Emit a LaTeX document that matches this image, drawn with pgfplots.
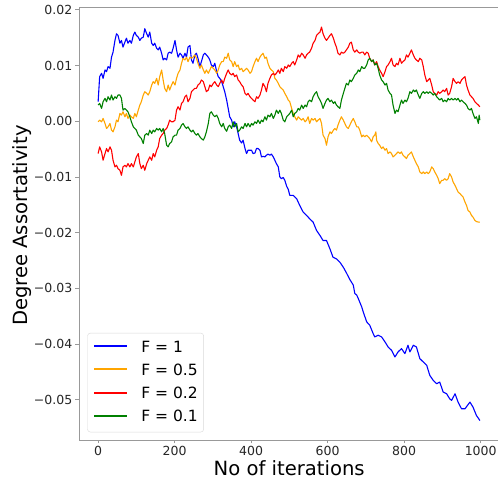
\documentclass[border=0pt]{standalone}
\usepackage{fontspec}
\setmainfont{DejaVu Sans}
\usepackage{pgfplots}
\pgfplotsset{compat=1.18}
\definecolor{mplblue}{HTML}{0000FF}
\definecolor{mplorange}{HTML}{FFA500}
\definecolor{mplred}{HTML}{FF0000}
\definecolor{mplgreen}{HTML}{008000}
\definecolor{spinegray}{gray}{0.6}
\definecolor{ticktext}{gray}{0.15}
\definecolor{legendframe}{gray}{0.85}

\begin{document}
\begin{tikzpicture}
% fixed page frame around the axis box (axis box south west corner is the origin)
\useasboundingbox (-79pt,-44pt) rectangle (419pt,440pt);
\begin{axis}[
  scale only axis,
  width=420.4pt, height=433pt,
  xmin=-50, xmax=1049,
  ymin=-0.0572, ymax=0.0205,
  axis line style={spinegray, line width=0.8pt},
  tick pos=left, tick align=outside,
  major tick length=3.5pt,
  every tick/.style={spinegray, line width=0.8pt},
  scaled y ticks=false, scaled x ticks=false,
  xtick={0,200,400,600,800,1000},
  xticklabels={0,200,400,600,800,1000},
  ytick={-0.05,-0.04,-0.03,-0.02,-0.01,0,0.01,0.02},
  yticklabels={−0.05,−0.04,−0.03,−0.02,−0.01,0.00,0.01,0.02},
  tick label style={font=\fontsize{12.5}{15}\selectfont, text=ticktext},
  yticklabel style={inner sep=0pt, xshift=-3pt},
  xticklabel style={inner sep=0pt, yshift=-3pt},
  xlabel={No of iterations},
  ylabel={Degree Assortativity},
  label style={font=\fontsize{19.6}{23}\selectfont, text=black},
  xlabel style={at={(axis description cs:0.5,-0.0831)}, anchor=base},
  ylabel style={at={(axis description cs:-0.123,0.495)}, anchor=base},
  legend style={
    at={(axis description cs:0.0197,0.0178)}, anchor=south west,
    draw=legendframe, rounded corners=3pt, fill=white,
    font=\fontsize{15.5}{18}\selectfont,
    inner xsep=6pt, inner ysep=7.5pt,
    row sep=9.2pt,
    cells={anchor=base west},
    nodes={inner sep=0pt, text height=11.5pt, text depth=2.6pt},
    /tikz/every odd column/.append style={column sep=13.3pt},
  },
  every axis plot/.append style={line width=1.1pt, line join=round},
]
% F = 1
\addplot[mplblue, legend image code/.code={\draw[draw=mplblue, line width=1.8pt] (0pt,6pt) -- (32.7pt,6pt);}] coordinates {
(0,0.0035)(4,0.0080)(9,0.0086)(13,0.0077)(18,0.0092)(22,0.0089)(26,0.0098)(31,0.0095)(35,0.0115)(39,0.0124)(44,0.0145)(48,0.0157)(52,0.0154)(57,0.0140)(61,0.0145)(65,0.0133)(70,0.0142)(74,0.0149)(78,0.0140)(83,0.0145)(87,0.0140)(92,0.0154)(96,0.0160)(100,0.0154)(105,0.0151)(109,0.0145)(113,0.0149)(118,0.0151)(122,0.0166)(127,0.0157)(131,0.0151)(135,0.0160)(140,0.0140)(144,0.0136)(148,0.0140)(153,0.0131)(157,0.0128)(161,0.0133)(166,0.0122)(170,0.0110)(174,0.0113)(179,0.0110)(183,0.0122)(187,0.0124)(192,0.0122)(196,0.0131)(201,0.0145)(205,0.0128)(209,0.0115)(214,0.0122)(218,0.0119)(222,0.0113)(227,0.0122)(231,0.0115)(235,0.0133)(240,0.0136)(244,0.0110)(248,0.0104)(253,0.0119)(257,0.0122)(261,0.0113)(266,0.0098)(270,0.0107)(275,0.0119)(279,0.0122)(283,0.0119)(288,0.0115)(292,0.0110)(296,0.0101)(301,0.0098)(305,0.0104)(310,0.0089)(314,0.0080)(318,0.0077)(323,0.0071)(327,0.0062)(331,0.0053)(336,0.0038)(340,0.0023)(344,0.0008)(349,0.0002)(353,-0.0010)(357,-0.0001)(362,-0.0010)(366,-0.0022)(370,-0.0034)(375,-0.0039)(379,-0.0034)(384,-0.0049)(388,-0.0058)(392,-0.0052)(397,-0.0052)(401,-0.0052)(405,-0.0058)(410,-0.0057)(414,-0.0049)(418,-0.0049)(423,-0.0052)(427,-0.0064)(431,-0.0063)(436,-0.0064)(440,-0.0061)(444,-0.0059)(449,-0.0061)(453,-0.0059)(458,-0.0064)(462,-0.0070)(466,-0.0076)(471,-0.0082)(475,-0.0100)(479,-0.0103)(484,-0.0101)(488,-0.0106)(493,-0.0117)(497,-0.0122)(501,-0.0133)(510,-0.0133)(519,-0.0139)(527,-0.0151)(536,-0.0163)(545,-0.0169)(553,-0.0175)(562,-0.0181)(571,-0.0196)(580,-0.0205)(588,-0.0214)(597,-0.0214)(606,-0.0229)(614,-0.0244)(623,-0.0247)(632,-0.0253)(641,-0.0262)(649,-0.0272)(658,-0.0284)(667,-0.0294)(671,-0.0309)(676,-0.0312)(680,-0.0318)(689,-0.0333)(693,-0.0342)(702,-0.0360)(710,-0.0366)(719,-0.0381)(723,-0.0387)(732,-0.0384)(741,-0.0387)(750,-0.0396)(758,-0.0405)(767,-0.0411)(776,-0.0423)(784,-0.0414)(793,-0.0408)(802,-0.0417)(810,-0.0402)(815,-0.0414)(824,-0.0402)(832,-0.0405)(841,-0.0426)(850,-0.0432)(859,-0.0438)(867,-0.0456)(876,-0.0465)(885,-0.0471)(893,-0.0468)(902,-0.0486)(911,-0.0489)(919,-0.0498)(924,-0.0501)(933,-0.0489)(941,-0.0504)(950,-0.0516)(959,-0.0516)(972,-0.0504)(980,-0.0513)(989,-0.0528)(998,-0.0537)
};
\addlegendentry{F = 1}
% F = 0.5
\addplot[mplorange, legend image code/.code={\draw[draw=mplorange, line width=1.8pt] (0pt,6pt) -- (32.7pt,6pt);}] coordinates {
(0,-0.0001)(4,0.0002)(9,-0.0001)(13,0.0005)(18,-0.0004)(22,-0.0013)(26,-0.0010)(31,-0.0004)(35,-0.0016)(39,-0.0019)(44,-0.0010)(48,0.0002)(52,-0.0001)(57,0.0014)(61,0.0011)(65,0.0017)(70,0.0008)(74,0.0014)(78,0.0005)(83,0.0011)(87,0.0008)(92,0.0005)(96,0.0014)(100,0.0008)(105,0.0020)(109,0.0029)(113,0.0035)(118,0.0047)(122,0.0053)(127,0.0050)(131,0.0047)(135,0.0053)(140,0.0065)(144,0.0071)(148,0.0068)(153,0.0077)(157,0.0065)(161,0.0080)(166,0.0092)(170,0.0074)(174,0.0059)(179,0.0053)(183,0.0065)(187,0.0056)(192,0.0065)(196,0.0071)(201,0.0065)(205,0.0077)(209,0.0086)(214,0.0092)(218,0.0104)(222,0.0113)(227,0.0110)(231,0.0115)(235,0.0107)(240,0.0115)(244,0.0113)(248,0.0115)(253,0.0119)(257,0.0113)(261,0.0104)(266,0.0095)(270,0.0101)(275,0.0092)(279,0.0086)(283,0.0092)(288,0.0086)(292,0.0092)(296,0.0098)(301,0.0095)(305,0.0092)(310,0.0086)(314,0.0092)(318,0.0101)(323,0.0107)(327,0.0107)(331,0.0115)(336,0.0113)(340,0.0122)(344,0.0110)(349,0.0107)(353,0.0098)(357,0.0107)(362,0.0098)(366,0.0101)(370,0.0092)(375,0.0095)(379,0.0089)(384,0.0092)(388,0.0095)(392,0.0092)(397,0.0086)(401,0.0089)(405,0.0098)(410,0.0107)(414,0.0113)(418,0.0107)(423,0.0115)(427,0.0119)(431,0.0122)(436,0.0113)(440,0.0115)(444,0.0104)(449,0.0095)(453,0.0092)(458,0.0089)(462,0.0077)(466,0.0074)(471,0.0068)(475,0.0062)(479,0.0059)(484,0.0056)(488,0.0050)(493,0.0044)(497,0.0038)(501,0.0035)(506,0.0023)(510,0.0014)(514,0.0008)(519,0.0002)(523,0.0008)(527,0.0005)(532,0.0002)(536,0.0005)(541,-0.0001)(545,0.0002)(549,0.0008)(553,-0.0004)(558,0.0005)(562,0.0002)(567,0.0005)(571,-0.0001)(575,0.0002)(580,0.0005)(584,-0.0004)(588,-0.0025)(593,-0.0031)(597,-0.0043)(601,-0.0028)(606,-0.0019)(610,-0.0022)(615,-0.0016)(619,-0.0013)(623,-0.0016)(627,-0.0007)(632,0.0002)(636,0.0008)(641,0.0002)(645,-0.0004)(649,-0.0010)(654,-0.0013)(658,-0.0007)(662,-0.0001)(667,0.0005)(671,-0.0001)(676,-0.0010)(680,-0.0010)(684,-0.0016)(689,-0.0028)(693,-0.0025)(697,-0.0028)(702,-0.0025)(706,-0.0028)(710,-0.0031)(715,-0.0037)(719,-0.0028)(723,-0.0025)(726,-0.0019)(728,-0.0034)(732,-0.0040)(736,-0.0043)(741,-0.0049)(745,-0.0046)(750,-0.0052)(754,-0.0049)(758,-0.0058)(763,-0.0055)(767,-0.0058)(771,-0.0064)(776,-0.0061)(780,-0.0058)(784,-0.0055)(789,-0.0058)(793,-0.0055)(797,-0.0061)(802,-0.0064)(806,-0.0067)(810,-0.0061)(815,-0.0058)(819,-0.0055)(824,-0.0064)(828,-0.0070)(832,-0.0076)(837,-0.0082)(841,-0.0091)(846,-0.0094)(850,-0.0091)(854,-0.0094)(859,-0.0091)(863,-0.0094)(867,-0.0091)(872,-0.0082)(876,-0.0085)(880,-0.0091)(885,-0.0097)(889,-0.0103)(893,-0.0112)(898,-0.0106)(902,-0.0106)(906,-0.0103)(911,-0.0106)(915,-0.0103)(919,-0.0094)(924,-0.0100)(928,-0.0109)(933,-0.0115)(937,-0.0121)(941,-0.0127)(946,-0.0130)(950,-0.0133)(954,-0.0136)(959,-0.0145)(963,-0.0151)(967,-0.0160)(972,-0.0163)(976,-0.0169)(980,-0.0172)(985,-0.0178)(989,-0.0180)(994,-0.0181)(998,-0.0181)
};
\addlegendentry{F = 0.5}
% F = 0.2
\addplot[mplred, legend image code/.code={\draw[draw=mplred, line width=1.8pt] (0pt,6pt) -- (32.7pt,6pt);}] coordinates {
(0,-0.0058)(4,-0.0046)(9,-0.0055)(13,-0.0070)(18,-0.0058)(22,-0.0049)(26,-0.0055)(31,-0.0046)(35,-0.0052)(39,-0.0070)(44,-0.0082)(48,-0.0079)(52,-0.0085)(57,-0.0088)(61,-0.0097)(65,-0.0082)(70,-0.0079)(74,-0.0082)(78,-0.0076)(83,-0.0082)(87,-0.0076)(92,-0.0082)(96,-0.0073)(100,-0.0064)(105,-0.0058)(109,-0.0076)(113,-0.0085)(118,-0.0079)(122,-0.0088)(127,-0.0076)(131,-0.0070)(135,-0.0064)(140,-0.0070)(144,-0.0058)(148,-0.0064)(153,-0.0052)(157,-0.0046)(161,-0.0031)(166,-0.0025)(170,-0.0022)(174,-0.0016)(179,-0.0013)(183,-0.0007)(187,0.0002)(192,-0.0001)(196,-0.0001)(201,0.0002)(205,0.0020)(209,0.0026)(214,0.0020)(218,0.0032)(222,0.0035)(227,0.0044)(231,0.0047)(235,0.0035)(240,0.0041)(244,0.0053)(248,0.0056)(253,0.0059)(257,0.0059)(261,0.0065)(266,0.0068)(270,0.0074)(275,0.0071)(279,0.0062)(283,0.0053)(288,0.0056)(292,0.0065)(296,0.0062)(301,0.0068)(305,0.0071)(310,0.0065)(314,0.0062)(318,0.0068)(323,0.0074)(327,0.0068)(331,0.0077)(336,0.0086)(340,0.0092)(344,0.0086)(349,0.0083)(353,0.0086)(357,0.0080)(362,0.0083)(366,0.0074)(370,0.0071)(375,0.0065)(379,0.0062)(384,0.0050)(388,0.0047)(392,0.0050)(397,0.0044)(401,0.0041)(405,0.0038)(410,0.0035)(414,0.0044)(418,0.0041)(423,0.0047)(427,0.0056)(431,0.0068)(436,0.0062)(440,0.0053)(444,0.0068)(449,0.0077)(453,0.0083)(458,0.0086)(462,0.0083)(466,0.0086)(471,0.0092)(475,0.0086)(479,0.0095)(484,0.0089)(488,0.0098)(493,0.0095)(497,0.0101)(501,0.0098)(506,0.0104)(510,0.0107)(514,0.0101)(519,0.0110)(523,0.0119)(527,0.0115)(532,0.0122)(536,0.0119)(541,0.0113)(545,0.0119)(549,0.0122)(553,0.0124)(558,0.0131)(562,0.0140)(567,0.0145)(571,0.0154)(575,0.0157)(580,0.0160)(584,0.0169)(588,0.0157)(593,0.0149)(597,0.0145)(601,0.0149)(606,0.0154)(610,0.0157)(615,0.0149)(619,0.0140)(623,0.0133)(627,0.0122)(632,0.0119)(636,0.0124)(641,0.0122)(645,0.0124)(649,0.0128)(654,0.0133)(658,0.0140)(662,0.0142)(667,0.0128)(671,0.0124)(676,0.0128)(680,0.0124)(684,0.0122)(689,0.0124)(693,0.0124)(697,0.0119)(702,0.0124)(706,0.0122)(710,0.0113)(715,0.0107)(719,0.0110)(723,0.0101)(728,0.0107)(732,0.0098)(736,0.0092)(741,0.0086)(745,0.0080)(750,0.0089)(754,0.0098)(758,0.0101)(763,0.0107)(767,0.0113)(771,0.0101)(776,0.0098)(780,0.0104)(784,0.0101)(789,0.0113)(793,0.0104)(797,0.0107)(802,0.0110)(806,0.0119)(810,0.0115)(815,0.0122)(819,0.0128)(824,0.0119)(828,0.0113)(832,0.0110)(837,0.0107)(841,0.0113)(846,0.0110)(850,0.0098)(854,0.0083)(859,0.0071)(863,0.0074)(867,0.0077)(872,0.0065)(876,0.0053)(880,0.0050)(885,0.0047)(889,0.0053)(893,0.0050)(898,0.0053)(902,0.0056)(906,0.0053)(911,0.0059)(915,0.0047)(919,0.0050)(924,0.0062)(928,0.0077)(933,0.0071)(937,0.0068)(941,0.0071)(946,0.0068)(950,0.0074)(954,0.0077)(959,0.0080)(963,0.0065)(967,0.0056)(972,0.0047)(976,0.0044)(980,0.0041)(985,0.0035)(989,0.0032)(994,0.0029)(998,0.0026)
};
\addlegendentry{F = 0.2}
% F = 0.1
\addplot[mplgreen, legend image code/.code={\draw[draw=mplgreen, line width=1.8pt] (0pt,6pt) -- (32.7pt,6pt);}] coordinates {
(0,0.0029)(4,0.0032)(9,0.0023)(13,0.0035)(18,0.0041)(22,0.0035)(26,0.0044)(31,0.0038)(35,0.0047)(39,0.0038)(44,0.0044)(48,0.0041)(52,0.0047)(57,0.0047)(61,0.0041)(65,0.0020)(70,0.0023)(74,0.0020)(78,0.0017)(83,0.0008)(87,-0.0001)(92,-0.0010)(96,-0.0013)(100,-0.0016)(105,-0.0025)(109,-0.0028)(113,-0.0031)(118,-0.0040)(122,-0.0025)(127,-0.0022)(131,-0.0025)(135,-0.0016)(140,-0.0022)(144,-0.0016)(148,-0.0019)(153,-0.0013)(157,-0.0016)(161,-0.0013)(166,-0.0019)(170,-0.0013)(174,-0.0022)(179,-0.0043)(183,-0.0046)(187,-0.0040)(192,-0.0037)(196,-0.0028)(201,-0.0025)(205,-0.0025)(209,-0.0016)(214,-0.0013)(218,-0.0007)(222,-0.0004)(227,-0.0010)(231,-0.0013)(235,-0.0010)(240,-0.0016)(244,-0.0019)(248,-0.0016)(253,-0.0022)(257,-0.0025)(261,-0.0022)(266,-0.0028)(270,-0.0031)(275,-0.0034)(279,-0.0028)(283,-0.0019)(288,-0.0004)(292,0.0014)(296,0.0017)(301,0.0011)(305,0.0008)(310,0.0011)(314,0.0005)(318,-0.0004)(323,-0.0010)(327,-0.0004)(331,-0.0013)(336,-0.0018)(340,-0.0010)(344,-0.0007)(349,-0.0013)(353,-0.0001)(357,-0.0010)(362,-0.0004)(366,-0.0019)(370,-0.0016)(375,-0.0010)(379,-0.0013)(384,-0.0004)(388,-0.0010)(392,-0.0004)(397,-0.0010)(401,-0.0004)(405,-0.0007)(410,-0.0001)(414,-0.0004)(418,0.0002)(423,-0.0004)(427,0.0002)(431,-0.0001)(436,0.0008)(440,0.0002)(444,0.0011)(449,0.0008)(453,0.0014)(458,0.0005)(462,0.0011)(466,0.0020)(471,0.0014)(475,0.0020)(479,0.0014)(484,0.0002)(488,-0.0001)(493,0.0008)(497,0.0011)(501,0.0014)(506,0.0020)(510,0.0008)(514,0.0014)(519,0.0017)(523,0.0023)(527,0.0020)(532,0.0029)(536,0.0023)(541,0.0029)(545,0.0026)(549,0.0035)(553,0.0038)(558,0.0035)(562,0.0044)(567,0.0050)(571,0.0053)(575,0.0044)(580,0.0038)(584,0.0032)(588,0.0023)(593,0.0032)(597,0.0038)(601,0.0041)(606,0.0035)(610,0.0038)(615,0.0032)(619,0.0035)(623,0.0029)(627,0.0026)(632,0.0023)(636,0.0038)(641,0.0050)(645,0.0059)(649,0.0068)(654,0.0065)(658,0.0074)(662,0.0071)(667,0.0077)(671,0.0083)(676,0.0086)(680,0.0092)(684,0.0089)(689,0.0098)(693,0.0095)(697,0.0095)(702,0.0101)(706,0.0110)(710,0.0113)(715,0.0107)(719,0.0110)(723,0.0101)(728,0.0104)(732,0.0095)(736,0.0083)(741,0.0074)(745,0.0071)(750,0.0065)(754,0.0068)(758,0.0056)(763,0.0050)(767,0.0047)(771,0.0029)(776,0.0014)(780,0.0020)(784,0.0017)(789,0.0029)(793,0.0038)(797,0.0032)(802,0.0038)(806,0.0035)(810,0.0041)(815,0.0053)(819,0.0050)(824,0.0056)(828,0.0053)(832,0.0056)(837,0.0047)(841,0.0041)(846,0.0050)(850,0.0053)(854,0.0050)(859,0.0053)(863,0.0050)(867,0.0053)(872,0.0050)(876,0.0047)(880,0.0050)(885,0.0044)(889,0.0041)(893,0.0038)(898,0.0041)(902,0.0035)(906,0.0038)(911,0.0035)(915,0.0041)(919,0.0038)(924,0.0041)(928,0.0038)(933,0.0041)(937,0.0038)(941,0.0041)(946,0.0035)(950,0.0038)(954,0.0035)(959,0.0032)(963,0.0029)(967,0.0023)(972,0.0020)(976,0.0023)(980,0.0014)(985,0.0005)(989,0.0008)(994,-0.0004)(996,0.0011)(998,0.0002)
};
\addlegendentry{F = 0.1}
\end{axis}
\end{tikzpicture}
\end{document}
